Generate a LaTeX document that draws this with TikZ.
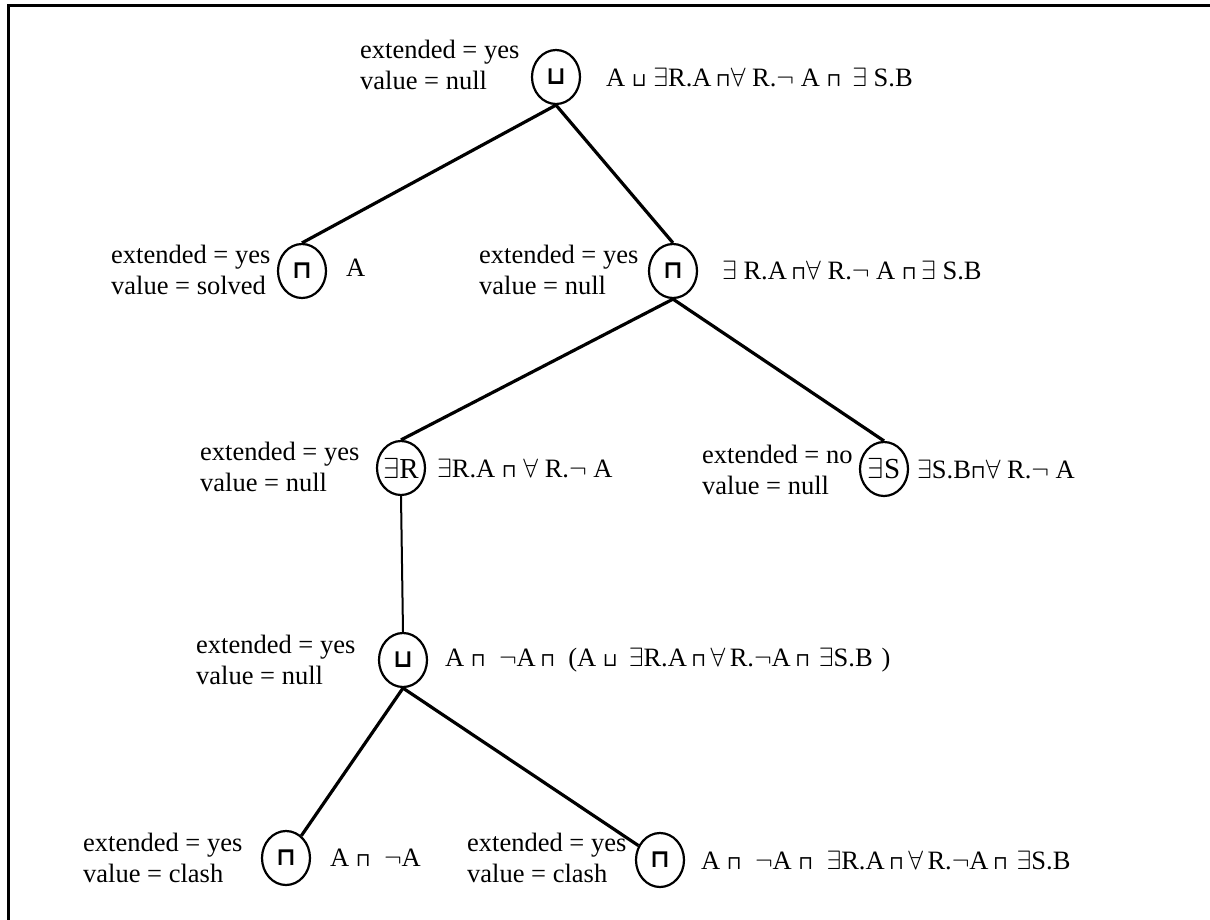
\RequirePackage{fix-cm}
\documentclass[tikz,border=0pt]{standalone}
\usepackage{amsmath}
\usepackage{fontspec}
\setmainfont{Liberation Serif}
\newfontfamily\opfont{DejaVu Sans}
\usetikzlibrary{shapes.geometric}
\newcommand\andop{{\opfont\fontsize{19}{19}\selectfont ⊓}}
\newcommand\orop{{\opfont\fontsize{19}{19}\selectfont ⊔}}

\begin{document}
\begin{tikzpicture}[x=1pt,y=-1pt,
  font=\fontsize{26.5}{30.5}\selectfont,
  op/.style={ellipse,draw,line width=2.2pt,minimum width=48pt,minimum height=54pt,inner sep=0pt,
    font=\opfont\bfseries\fontsize{25}{25}\selectfont},
  info/.style={anchor=west,align=left,inner sep=0pt},
  expr/.style={anchor=west,inner sep=0pt},
  arc/.style={line width=3.2pt}]
\useasboundingbox (0,0) rectangle (1210,919);
\draw[line width=3pt] (8,5) rectangle (1240,950);

% root
\node[op] (z) at (556,77) {⊔};
\node[info] (zi) at (360,65) {extended = yes\\value = null};
\node[expr] (zf) at (606,77) {A \orop\ $\exists$R.A\,\andop$\forall$ R.$\neg$ A \andop\ \,$\exists$ S.B};

% second level
\node[op] (l) at (302,271) {⊓};
\node[info] (li) at (111,270) {extended = yes\\value = solved};
\node[expr] (lf) at (346,268) {A};
\node[op] (r) at (673,271) {⊓};
\node[info] (ri) at (479,270) {extended = yes\\value = null};
\node[expr] (rf) at (722,270) {$\exists$ R.A\,\andop$\forall$ R.$\neg$ A \andop\,$\exists$ S.B};

% third level
\node[op,font=\fontsize{29}{29}\selectfont] (rl) at (401,468) {\makebox[0pt]{$\exists$R}};
\node[info] (rli) at (200,467) {extended = yes\\value = null};
\node[expr] (rlf) at (437,468) {$\exists$R.A \andop\ $\forall$ R.$\neg$ A};
\node[op,font=\fontsize{29}{29}\selectfont] (rr) at (884,469) {\makebox[0pt]{$\exists$S}};
\node[info] (rri) at (702,470) {extended = no\\value = null};
\node[expr] (rrf) at (917,469) {$\exists$S.B\andop$\forall$ R.$\neg$ A};

% fourth level
\node[op] (rll) at (403,660) {⊔};
\node[info] (rlli) at (196,660) {extended = yes\\value = null};
\node[expr] (rllf) at (445,660) {A \andop\ \ $\neg$A\,\andop\ \ (A \orop\ \,$\exists$R.A\,\andop\,$\forall$\,R.$\neg$A\,\andop\,\,$\exists$S.B\,\,)};

% leaves
\node[op] (rlll) at (286,858) {⊓};
\node[info] (rllli) at (83,858) {extended = yes\\value = clash};
\node[expr] (rlllf) at (330,858) {A \andop\ \ $\neg$A};
\node[op] (rllr) at (660,860) {⊓};
\node[info] (rllri) at (467,858) {extended = yes\\value = clash};
\node[expr] (rllrf) at (701,860) {A \andop\ \ $\neg$A \andop\ \ $\exists$R.A\,\andop\,$\forall$\,R.$\neg$A\,\andop\,\,$\exists$S.B};

\draw[arc] (z.south) -- (l.north);
\draw[arc] (z.south) -- (r.north);
\draw[arc] (r.south) -- (rl.north);
\draw[arc] (r.south) -- (rr.north);
\draw[line width=2pt] (rl.south) -- (rll.north);
\draw[arc] (rll.south) -- (rlll);
\draw[arc] (rll.south) -- (rllr);
\end{tikzpicture}
\end{document}
